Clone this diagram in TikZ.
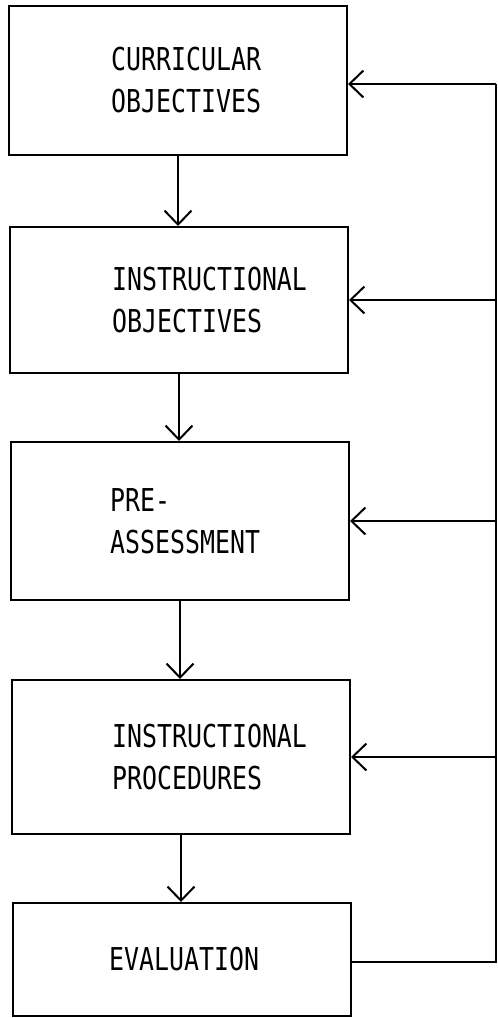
\documentclass[tikz,border=0pt]{standalone}
\usepackage{fontspec}
\usepackage{tikz}
\usetikzlibrary{arrows.meta}
\newfontfamily\typewriterfont[FakeStretch=0.79]{DejaVu Sans Mono}

\begin{document}
\begin{tikzpicture}[
    x=1pt, y=-1pt,
    box/.style={draw, line width=2pt, minimum width=338pt, inner sep=0pt},
    boxtext/.style={anchor=west, inner sep=0pt, align=left,
        font=\typewriterfont\fontsize{31.5}{42}\selectfont},
    flow/.style={-{Straight Barb[length=14pt, width=27pt, line width=2pt]}, line width=2pt},
    feedback/.style={line width=2pt}
]
    \useasboundingbox (0,0) rectangle (498,1018);

    % The five stages, top to bottom
    \node[box, minimum height=149pt] (curric)   at (178, 80.5) {};
    \node[box, minimum height=146pt] (instobj)  at (179, 300)  {};
    \node[box, minimum height=158pt] (preass)   at (180, 521)  {};
    \node[box, minimum height=154pt] (instproc) at (181, 757)  {};
    \node[box, minimum height=113pt] (evaluation) at (182, 959.5) {};

    % Labels sit left-aligned at a fixed indent in each box
    \node[boxtext] (curric_text)   at ([xshift=103pt]curric.west)   {CURRICULAR\\OBJECTIVES};
    \node[boxtext] (instobj_text)  at ([xshift=103pt]instobj.west)  {INSTRUCTIONAL\\OBJECTIVES};
    \node[boxtext] (preass_text)   at ([xshift=100pt]preass.west)   {PRE-\\ASSESSMENT};
    \node[boxtext] (instproc_text) at ([xshift=101pt]instproc.west) {INSTRUCTIONAL\\PROCEDURES};
    \node[boxtext] (evaluation_text) at ([xshift=97pt]evaluation.west) {EVALUATION};

    % Main sequence
    \draw[flow] (curric.south)   -- (curric.south |- instobj.north);
    \draw[flow] (instobj.south)  -- (instobj.south |- preass.north);
    \draw[flow] (preass.south)   -- (preass.south |- instproc.north);
    \draw[flow] (instproc.south) -- (instproc.south |- evaluation.north);

    % Feedback from the evaluation back to every earlier stage
    \coordinate (feedback_top) at (496, 84);
    \draw[feedback] ([yshift=-2.5pt]evaluation.east) -- ([yshift=-2.5pt]evaluation.east -| feedback_top) -- (feedback_top);
    \draw[flow] (feedback_top) -- (feedback_top -| curric.east);
    \draw[flow] (feedback_top |- instobj.east)  -- (instobj.east);
    \draw[flow] (feedback_top |- preass.east)   -- (preass.east);
    \draw[flow] (feedback_top |- instproc.east) -- (instproc.east);

\end{tikzpicture}
\end{document}
